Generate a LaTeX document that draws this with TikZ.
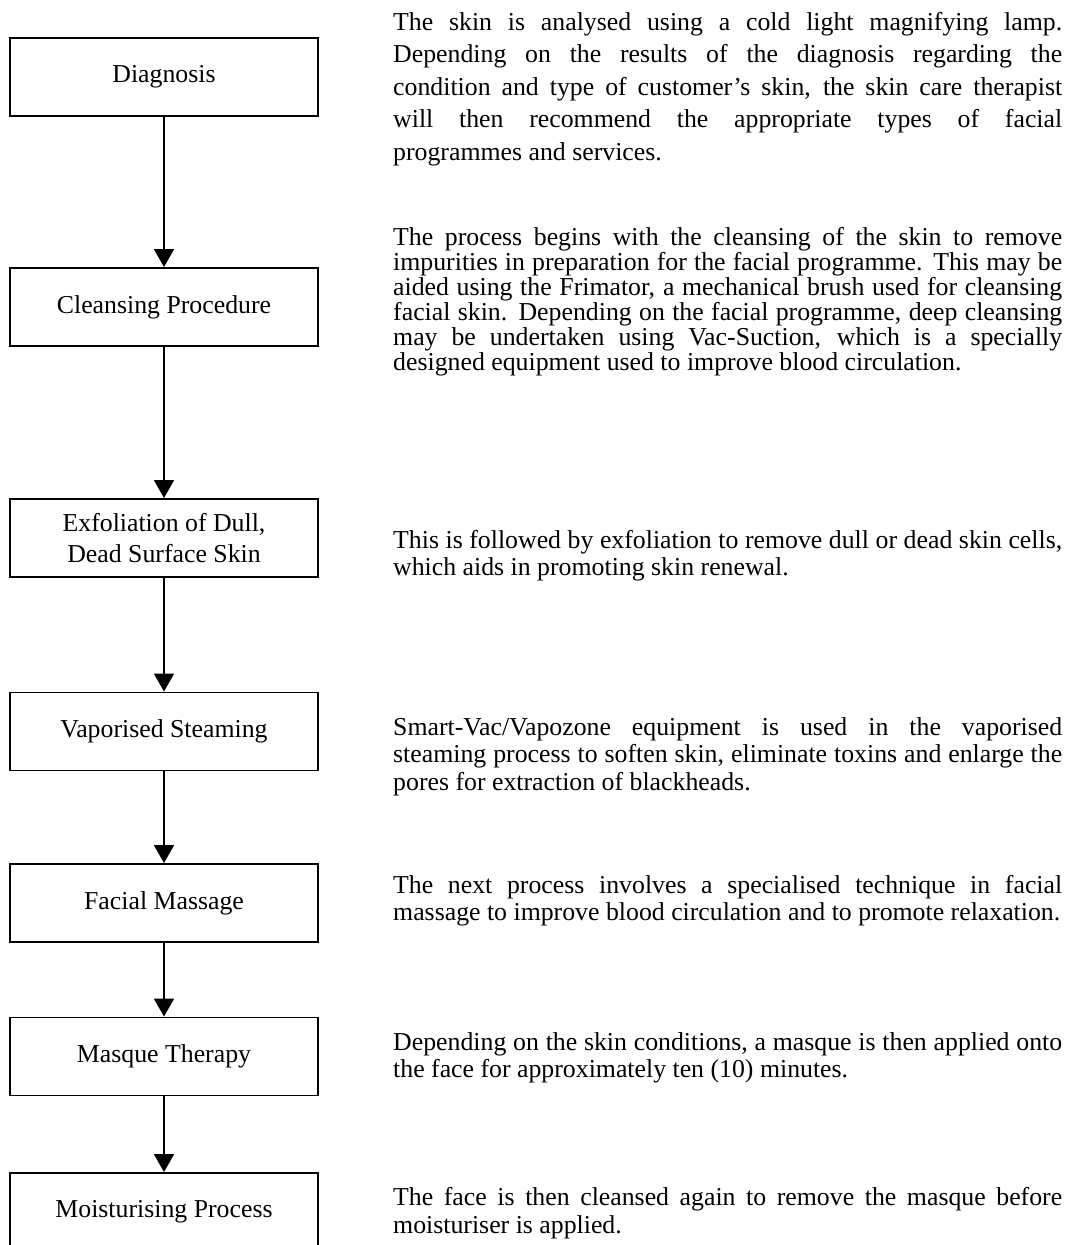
\documentclass[tikz,border=0pt]{standalone}
\usepackage{fontspec}
\setmainfont{Liberation Serif}
\usetikzlibrary{arrows.meta,positioning}
\tikzset{
  stage/.style={draw,line width=1.9pt,minimum width=308pt,minimum height=78pt,
    inner sep=0pt,align=center,font=\fontsize{25.8pt}{31pt}\selectfont},
  note/.style={anchor=base west,inner sep=0pt,text width=669pt,align=justify,
    font=\fontsize{25.8pt}{#1}\selectfont},
  note/.default={27pt},
  flow/.style={line width=1.8pt,-{Triangle[width=20pt,length=18pt]}}
}

\begin{document}
\begin{tikzpicture}[x=1pt,y=-1pt]
    \useasboundingbox (0,0) rectangle (1070,1245);
    \tolerance=9999 \hbadness=10000 \hyphenpenalty=10000
    % steps of the facial
    \node[stage] (diag)  at (164,77)     {Diagnosis};
    \node[stage] (clean) at (164,307)    {Cleansing Procedure};
    \node[stage] (exfol) at (164,538)    {Exfoliation of Dull,\\Dead Surface Skin};
    \node[stage] (steam) at (164,731.5)  {Vaporised Steaming};
    \node[stage] (mass)  at (164,903)    {Facial Massage};
    \node[stage] (masq)  at (164,1056.5) {Masque Therapy};
    \node[stage] (moist) at (164,1212)   {Moisturising Process};
    \foreach \a/\b in {diag/clean,clean/exfol,exfol/steam,steam/mass,mass/masq,masq/moist} {
      \draw[flow] (\a.south) -- (\b.north);
    }
    % descriptions
    \node[note=32.5pt] (diagtxt) at (393,30) {The skin is analysed using a cold light magnifying lamp.\linebreak
      Depending on the results of the diagnosis regarding the\linebreak
      condition and type of customer's skin, the skin care therapist\linebreak
      will then recommend the appropriate types of facial\linebreak
      programmes and services.};
    \node[note=25pt] (cleantxt) at (393,245) {The process begins with the cleansing of the skin to remove\linebreak
      impurities in preparation for the facial programme. This may be\linebreak
      aided using the Frimator, a mechanical brush used for cleansing\linebreak
      facial skin. Depending on the facial programme, deep cleansing\linebreak
      may be undertaken using Vac-Suction, which is a specially\linebreak
      designed equipment used to improve blood circulation.};
    \node[note] (exfoltxt) at (393,548) {This is followed by exfoliation to remove dull or dead skin cells,\linebreak
      which aids in promoting skin renewal.};
    \node[note=27.5pt] (steamtxt) at (393,735) {Smart-Vac/Vapozone equipment is used in the vaporised\linebreak
      steaming process to soften skin, eliminate toxins and enlarge the\linebreak
      pores for extraction of blackheads.};
    \node[note] (masstxt) at (393,893) {The next process involves a specialised technique in facial\linebreak
      massage to improve blood circulation and to promote relaxation.};
    \node[note] (masqtxt) at (393,1050) {Depending on the skin conditions, a masque is then applied onto\linebreak
      the face for approximately ten (10) minutes.};
    \node[note=28pt] (moisttxt) at (393,1205) {The face is then cleansed again to remove the masque before\linebreak
      moisturiser is applied.};
  \end{tikzpicture}
\end{document}
